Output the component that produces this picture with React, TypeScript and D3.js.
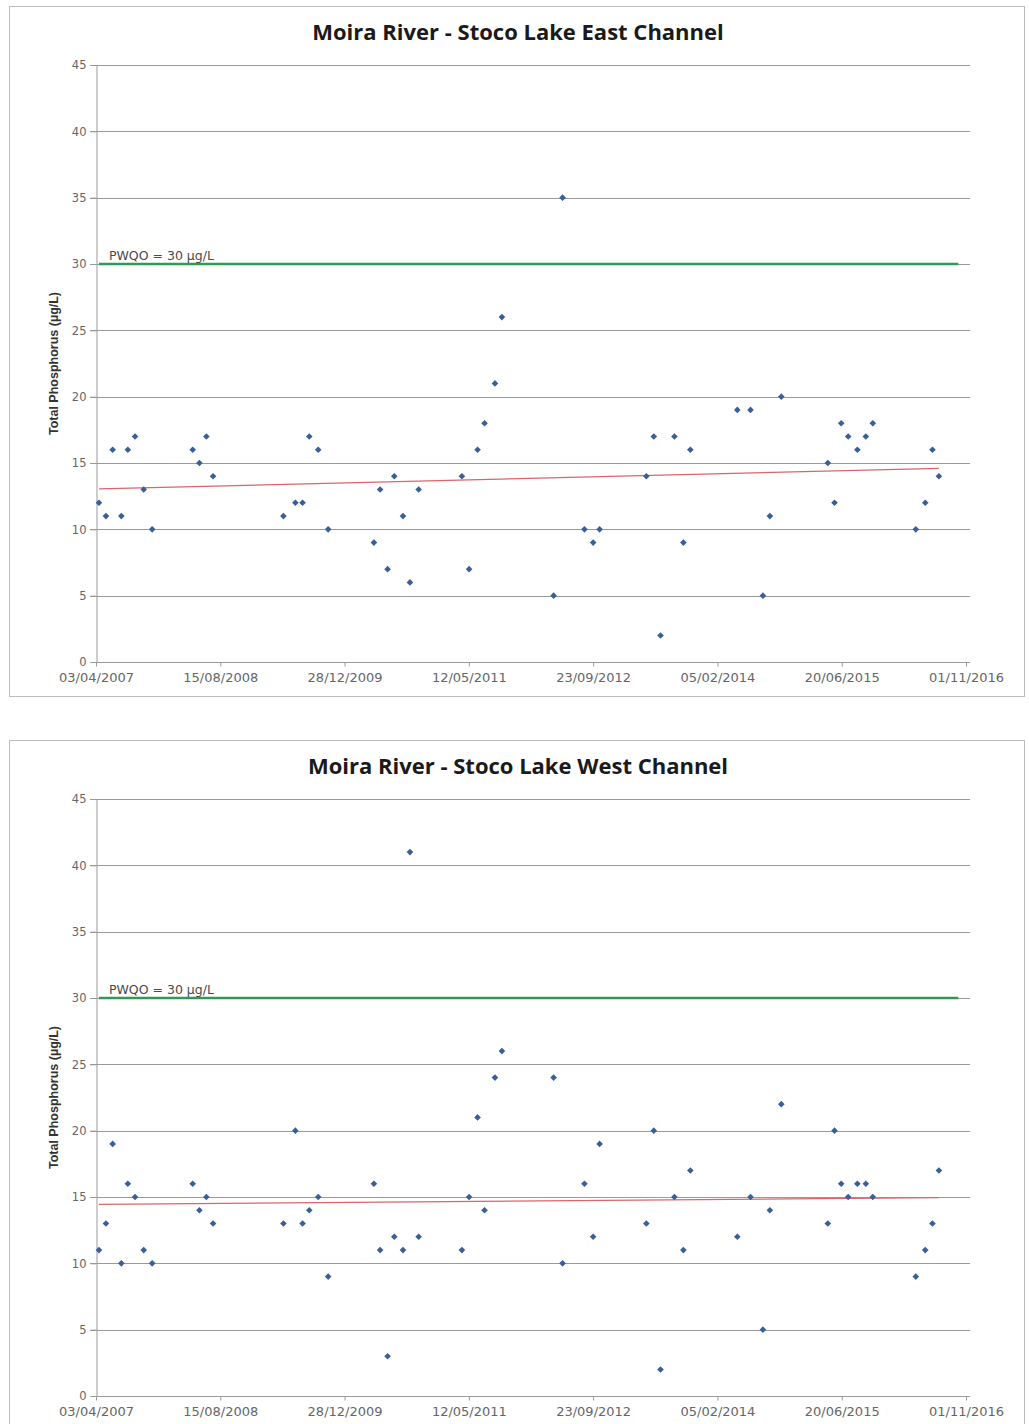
import * as d3 from "d3";
import { useEffect, useRef } from "react";

// sampling dates shared by both stations
const sampleDates = [
  "2007-04-15", "2007-05-13", "2007-06-09", "2007-07-14", "2007-08-09", "2007-09-07", "2007-10-12", "2007-11-15",
  "2008-04-26", "2008-05-23", "2008-06-20", "2008-07-17",
  "2009-04-26", "2009-06-13", "2009-07-12", "2009-08-08", "2009-09-13", "2009-10-23",
  "2010-04-25", "2010-05-20", "2010-06-19", "2010-07-16", "2010-08-20", "2010-09-17", "2010-10-22",
  "2011-04-14", "2011-05-13", "2011-06-16", "2011-07-14", "2011-08-25", "2011-09-22",
  "2012-04-17", "2012-05-23", "2012-08-19", "2012-09-23", "2012-10-19",
  "2013-04-25", "2013-05-25", "2013-06-21", "2013-08-16", "2013-09-21", "2013-10-19",
  "2014-04-26", "2014-06-18", "2014-08-07", "2014-09-04", "2014-10-20",
  "2015-04-25", "2015-05-22", "2015-06-18", "2015-07-16", "2015-08-22", "2015-09-25", "2015-10-23",
  "2016-04-13", "2016-05-21", "2016-06-19", "2016-07-15",
];

const eastValues = [
  12, 11, 16, 11, 16, 17, 13, 10,
  16, 15, 17, 14,
  11, 12, 12, 17, 16, 10,
  9, 13, 7, 14, 11, 6, 13,
  14, 7, 16, 18, 21, 26,
  5, 35, 10, 9, 10,
  14, 17, 2, 17, 9, 16,
  19, 19, 5, 11, 20,
  15, 12, 18, 17, 16, 17, 18,
  10, 12, 16, 14,
];

const westValues = [
  11, 13, 19, 10, 16, 15, 11, 10,
  16, 14, 15, 13,
  13, 20, 13, 14, 15, 9,
  16, 11, 3, 12, 11, 41, 12,
  11, 15, 21, 14, 24, 26,
  24, 10, 16, 12, 19,
  13, 20, 2, 15, 11, 17,
  12, 15, 5, 14, 22,
  13, 20, 16, 15, 16, 16, 15,
  9, 11, 13, 17,
];

// linear trend (start, end)
const eastTrend = [13.05, 14.6];
const westTrend = [14.45, 14.95];

const pwqoValue = 30;
const pwqoDates = ["2007-04-15", "2016-10-01"];
const axisStart = "2007-04-03";
const axisEnd = "2016-11-01";
const yTicks = [0, 5, 10, 15, 20, 25, 30, 35, 40, 45];

const parse = d3.utcParse("%Y-%m-%d");
const fmt = d3.utcFormat("%d/%m/%Y");

function drawChart(
  root: d3.Selection<SVGGElement, unknown, null, undefined>,
  title: string,
  values: number[],
  trend: number[]
) {
  const left = 96;
  const right = 966;
  const top = 65;
  const bottom = 662;

  const start = parse(axisStart)!;
  const end = parse(axisEnd)!;
  const x = d3.scaleUtc().domain([start, end]).range([left, right]);
  const y = d3.scaleLinear().domain([0, 45]).range([bottom, top]);

  // chart frame
  root.append("rect")
    .attr("x", 9.5).attr("y", 6.5)
    .attr("width", 1015).attr("height", 690)
    .attr("fill", "#fff")
    .attr("stroke", "#bcbcbc");

  root.append("text")
    .attr("x", 518).attr("y", 40)
    .attr("text-anchor", "middle")
    .style("font-family", "'Open Sans', sans-serif")
    .style("font-size", "22px")
    .style("font-weight", "700")
    .style("fill", "#1a1a1a")
    .text(title);

  // gridlines
  root.append("g")
    .selectAll("line")
    .data(yTicks.filter((t) => t > 0))
    .join("line")
    .attr("x1", left - 6).attr("x2", right + 4)
    .attr("y1", (d) => Math.round(y(d)) + 0.5).attr("y2", (d) => Math.round(y(d)) + 0.5)
    .attr("stroke", "#9a9a9a");

  const yAxis = root.append("g")
    .attr("transform", `translate(${left + 0.5},0)`)
    .call(d3.axisLeft(y).tickValues(yTicks).tickSize(6).tickPadding(4));
  yAxis.select(".domain").attr("stroke", "#9a9a9a");
  yAxis.selectAll(".tick line").attr("stroke", "#9a9a9a");
  yAxis.selectAll("text")
    .style("font-family", "'DejaVu Sans', sans-serif")
    .style("font-size", "11.5px")
    .style("fill", "#666");

  const xTicks = d3.range(0, 3501, 500).map((n) => d3.utcDay.offset(start, n));
  const xAxis = root.append("g")
    .attr("transform", `translate(0,${bottom + 0.5})`)
    .call(d3.axisBottom(x).tickValues(xTicks).tickFormat((d) => fmt(d as Date)).tickSize(4).tickPadding(6).tickSizeOuter(0));
  xAxis.select(".domain").attr("stroke", "#9a9a9a").attr("d", `M${left},0H${right + 4}`);
  xAxis.selectAll(".tick line").attr("stroke", "#9a9a9a");
  xAxis.selectAll("text")
    .style("font-family", "'DejaVu Sans', sans-serif")
    .style("font-size", "13px")
    .style("fill", "#666");

  root.append("text")
    .attr("transform", `translate(58,${(top + bottom) / 2}) rotate(-90)`)
    .attr("text-anchor", "middle")
    .style("font-family", "'Liberation Sans', Arial, sans-serif")
    .style("font-size", "12.5px")
    .style("font-weight", "700")
    .style("fill", "#333")
    .text("Total Phosphorus  (µg/L)");

  // PWQO guideline
  const pw = pwqoDates.map((d) => parse(d)!);
  root.append("line")
    .attr("x1", x(pw[0])).attr("x2", x(pw[1]))
    .attr("y1", y(pwqoValue)).attr("y2", y(pwqoValue))
    .attr("stroke", "#2f9a55")
    .attr("stroke-width", 2.5);
  root.append("text")
    .attr("x", x(pw[0]) + 10).attr("y", y(pwqoValue) - 4)
    .style("font-family", "'DejaVu Sans', sans-serif")
    .style("font-size", "12.5px")
    .style("fill", "#4a4a4a")
    .text("PWQO = 30 µg/L");

  // trend line
  const dates = sampleDates.map((d) => parse(d)!);
  const tl = d3.line<[Date, number]>().x((d) => x(d[0])).y((d) => y(d[1]));
  root.append("path")
    .attr("d", tl([[dates[0], trend[0]], [dates[dates.length - 1], trend[1]]]))
    .attr("fill", "none")
    .attr("stroke", "#d9666b")
    .attr("stroke-width", 1.2);

  // samples
  const diamond = d3.symbol(d3.symbolSquare, 22)();
  root.append("g")
    .selectAll("path")
    .data(values.map((v, i) => [dates[i], v] as [Date, number]))
    .join("path")
    .attr("d", diamond)
    .attr("transform", (d) => `translate(${x(d[0])},${y(d[1])}) rotate(45)`)
    .attr("fill", "#3a5f98");
}

export default function App() {
  const ref = useRef<SVGSVGElement>(null);

  useEffect(() => {
    if (!ref.current) return;
    const svg = d3.select(ref.current);
    svg.selectAll("*").remove();

    drawChart(svg.append("g"), "Moira River - Stoco Lake East Channel", eastValues, eastTrend);
    drawChart(
      svg.append("g").attr("transform", "translate(0,734)"),
      "Moira River - Stoco Lake West Channel",
      westValues,
      westTrend
    );
  }, []);

  return (
    <svg
      ref={ref}
      width={1029}
      height={1424}
      style={{ position: "absolute", left: 0, top: 0, background: "#fff" }}
    />
  );
}
